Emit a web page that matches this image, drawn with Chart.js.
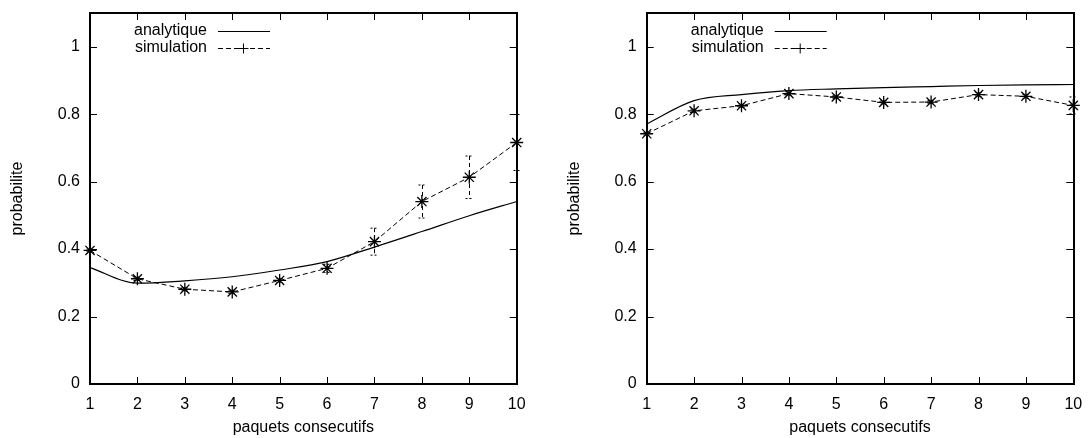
<!DOCTYPE html>
<html><head><meta charset="utf-8">
<script src="https://cdn.jsdelivr.net/npm/chart.js@4"></script>
<style>
html,body{margin:0;padding:0;background:#fff;}
#wrap{position:relative;width:1088px;height:438px;overflow:hidden;}
canvas{position:absolute;top:0;}
</style></head><body>
<div id="wrap">
<canvas id="c1" width="544" height="438" style="left:0"></canvas>
<canvas id="c2" width="544" height="438" style="left:544px"></canvas>
</div>
<script>
// ---- data ----
const categories = [1,2,3,4,5,6,7,8,9,10];
const yTickValues = [0,0.2,0.4,0.6,0.8,1];
const leftAnalytique = [0.345,0.299,0.306,0.318,0.338,0.363,0.406,0.452,0.499,0.541];
const leftSimulation = [0.396,0.312,0.281,0.273,0.307,0.343,0.422,0.541,0.613,0.716];
const leftSimError   = [0.004,0.005,0.005,0.005,0.006,0.012,0.040,0.049,0.063,0.083];
const rightAnalytique = [0.771,0.840,0.858,0.870,0.875,0.879,0.882,0.885,0.887,0.888];
const rightSimulation = [0.742,0.810,0.825,0.861,0.851,0.835,0.836,0.858,0.853,0.826];
const rightSimError   = [0.004,0.005,0.005,0.005,0.005,0.005,0.005,0.006,0.006,0.025];
const seriesNames = ['analytique','simulation'];
const xTitle = 'paquets consecutifs';
const yTitle = 'probabilite';

Chart.defaults.font.family = '"Liberation Sans", Arial, Helvetica, sans-serif';
Chart.defaults.font.size = 16;
Chart.defaults.color = '#000';

const pts = (arr) => categories.map((c,i)=>({x:c, y:arr[i]}));

const framePlugin = {
  id:'frame',
  afterDatasetsDraw(chart){
    const {ctx, chartArea:a, scales:{x,y}} = chart;
    ctx.save();
    ctx.strokeStyle = '#000';
    ctx.setLineDash([]);
    ctx.lineWidth = 1;
    const L = 7;
    const ln = (x1,y1,x2,y2)=>{ctx.beginPath();ctx.moveTo(x1,y1);ctx.lineTo(x2,y2);ctx.stroke();};
    x.ticks.forEach(t=>{const p=Math.round(x.getPixelForValue(t.value))+0.5; ln(p,a.bottom,p,a.bottom-L); ln(p,a.top,p,a.top+L);});
    y.ticks.forEach(t=>{const p=Math.round(y.getPixelForValue(t.value))+0.5; ln(a.left,p,a.left+L,p); ln(a.right,p,a.right-L,p);});
    ctx.lineWidth = 2;
    ctx.strokeRect(Math.round(a.left), Math.round(a.top), Math.round(a.right-a.left), Math.round(a.bottom-a.top));
    ctx.restore();
  }
};

const errorPlugin = {
  id:'errbars',
  afterDatasetsDraw(chart){
    const {ctx, scales:{x,y}} = chart;
    chart.data.datasets.forEach(ds=>{
      if(!ds.errors) return;
      ctx.save();
      ctx.strokeStyle = '#000';
      ctx.lineWidth = 1;
      ds.data.forEach((d,i)=>{
        const e = ds.errors[i];
        const px = Math.round(x.getPixelForValue(d.x))+0.5;
        const top = y.getPixelForValue(d.y+e), bot = y.getPixelForValue(d.y-e);
        ctx.setLineDash([4,3]);
        ctx.beginPath(); ctx.moveTo(px,top); ctx.lineTo(px,bot); ctx.stroke();
        ctx.setLineDash([2,2]);
        ctx.beginPath(); ctx.moveTo(px-4,top); ctx.lineTo(px+4,top);
        ctx.moveTo(px-4,bot); ctx.lineTo(px+4,bot); ctx.stroke();
      });
      ctx.restore();
    });
  }
};

const legendPlugin = {
  id:'gnulegend',
  afterDraw(chart){
    const {ctx, chartArea:a} = chart;
    ctx.save();
    ctx.font = '16px "Liberation Sans", Arial, sans-serif';
    ctx.fillStyle = '#000';
    ctx.textAlign = 'right';
    ctx.textBaseline = 'middle';
    const rows = [a.top+18, a.top+34.5];
    chart.data.datasets.forEach((ds,i)=>{
      const yy = rows[i];
      ctx.fillText(ds.label, a.left+117, yy);
      ctx.strokeStyle = '#000';
      ctx.lineWidth = 1;
      ctx.setLineDash(ds.borderDash || []);
      const yl = Math.round(yy)+0.5;
      ctx.beginPath(); ctx.moveTo(a.left+128, yl); ctx.lineTo(a.left+180, yl); ctx.stroke();
      if (ds.errors){
        ctx.setLineDash([]);
        const cx = a.left+153.5;
        ctx.beginPath(); ctx.moveTo(cx-5,yl); ctx.lineTo(cx+5,yl); ctx.moveTo(cx,yl-5); ctx.lineTo(cx,yl+5); ctx.stroke();
      }
    });
    ctx.restore();
  }
};

function makeChart(id, analytique, simulation, errors, yWidth, padRight, yTitlePad){
  return new Chart(document.getElementById(id), {
    type:'line',
    data:{datasets:[
      {label:seriesNames[0], data:pts(analytique), borderColor:'#000', borderWidth:1.2,
       pointRadius:0, cubicInterpolationMode:'monotone', fill:false},
      {label:seriesNames[1], data:pts(simulation), borderColor:'#000', borderWidth:1,
       borderDash:[5,3], pointStyle:'star', pointRadius:6.5, pointBorderWidth:1.3,
       pointBorderColor:'#000', pointBackgroundColor:'#000', tension:0, fill:false, errors:errors}
    ]},
    options:{
      responsive:false, devicePixelRatio:1, animation:false, clip:false,
      layout:{padding:{left:0, right:padRight, top:13, bottom:0}},
      plugins:{legend:{display:false}, tooltip:{enabled:false}},
      scales:{
        x:{type:'linear', min:1, max:10,
           ticks:{stepSize:1, padding:10.5, maxRotation:0, autoSkip:false, font:{size:16}},
           grid:{display:false, drawTicks:false}, border:{display:false},
           title:{display:true, text:xTitle, font:{size:16}, padding:{top:0,bottom:0.4}},
           afterFit(s){ s.height = 54; s.paddingLeft = 0; s.paddingRight = 0; }},
        y:{type:'linear', min:0, max:1.1,
           afterBuildTicks(s){ s.ticks = yTickValues.map(v=>({value:v})); },
           ticks:{padding:10, font:{size:16}, callback:(v)=>String(Number(v.toFixed(1)))},
           grid:{display:false, drawTicks:false}, border:{display:false},
           title:{display:true, text:yTitle, font:{size:16}, padding:{top:yTitlePad,bottom:0}},
           afterFit(s){ s.width = yWidth; s.paddingTop = 0; s.paddingBottom = 0; }}
      }
    },
    plugins:[errorPlugin, framePlugin, legendPlugin]
  });
}

makeChart('c1', leftAnalytique, leftSimulation, leftSimError, 90, 27.3, 8.4);
makeChart('c2', rightAnalytique, rightSimulation, rightSimError, 102.7, 14.7, 21.4);
</script>
</body></html>
